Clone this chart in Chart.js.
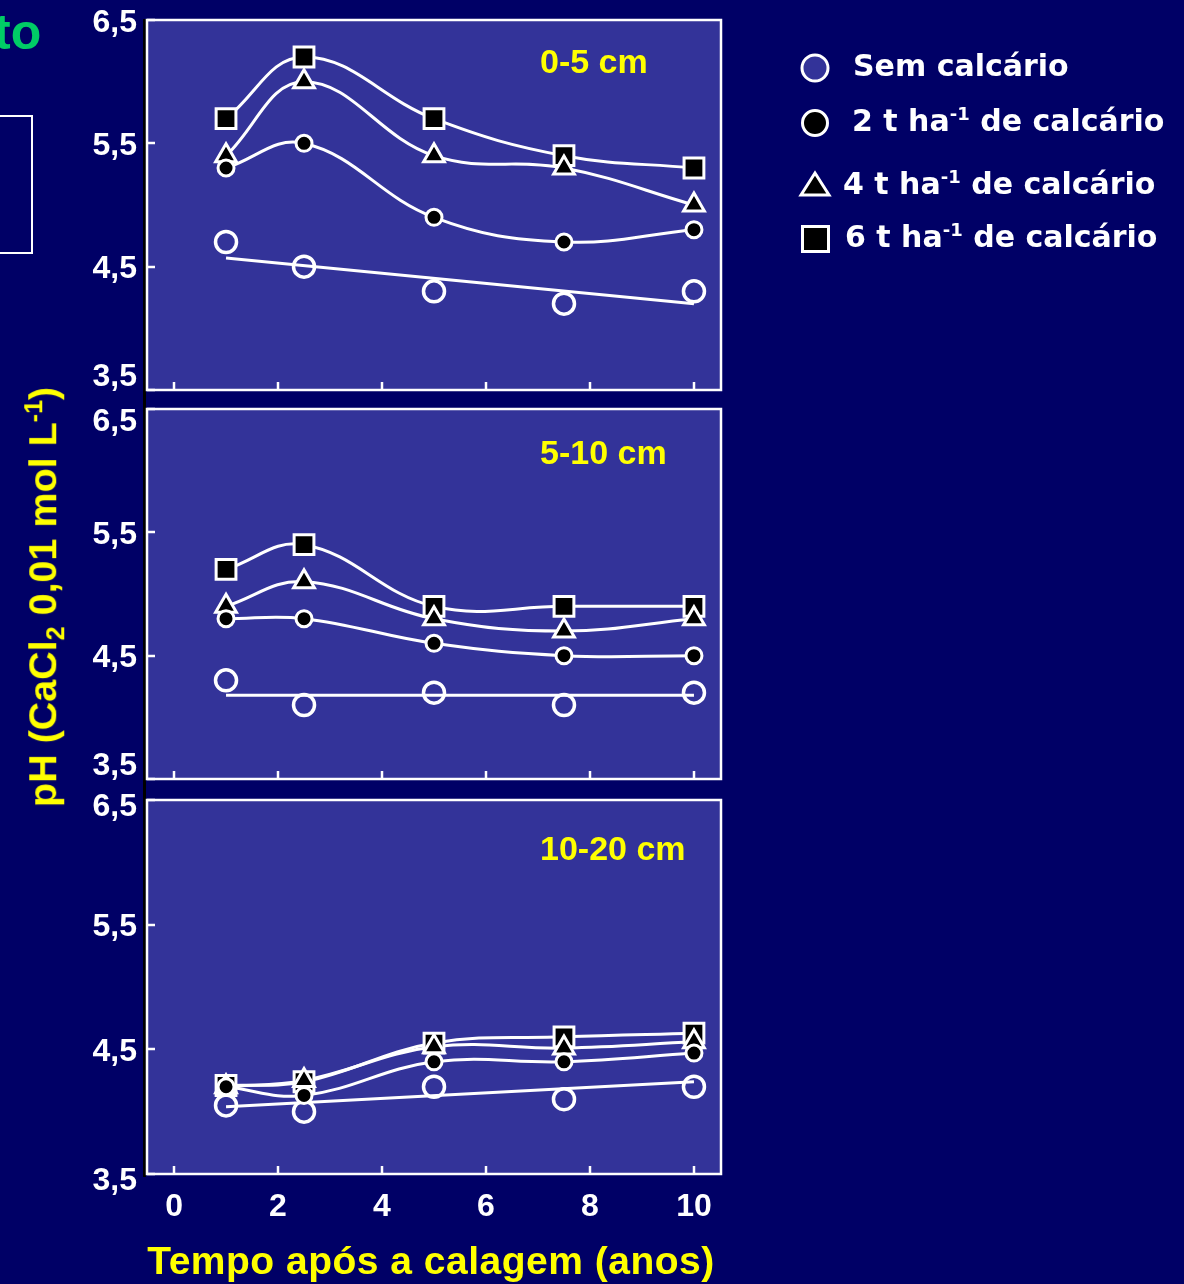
<!DOCTYPE html>
<html>
<head>
<meta charset="utf-8">
<script src="https://cdn.jsdelivr.net/npm/chart.js@4/dist/chart.umd.min.js"></script>
<style>
  html, body { margin:0; padding:0; }
  body { width:1184px; height:1284px; background:#000066; position:relative; overflow:hidden; }
  canvas { position:absolute; left:0; }
  .lab { position:absolute; white-space:nowrap; line-height:1; font-weight:bold; }
  .sans { font-family:"Liberation Sans", Arial, sans-serif; }
  .dv { font-family:"DejaVu Sans", Verdana, sans-serif; }
  .leg { color:#fff; font-size:30px; }
  .sp { position:relative; top:-11px; font-size:18px; }
  .ysub { position:relative; top:8px; font-size:25px; }
  .ysup { position:relative; top:-14px; font-size:25px; }
</style>
</head>
<body>
<!-- cropped slide fragments -->
<div class="lab sans" style="left:-6px;top:7px;font-size:50px;color:#00cc66;">to</div>
<div style="position:absolute;left:-10px;top:115px;width:39px;height:135px;border:2px solid #fff;"></div>
<div style="position:absolute;left:143px;top:19px;width:3px;height:1158px;background:#000;"></div>

<canvas id="c1" width="740" height="396" style="top:0px"></canvas>
<canvas id="c2" width="740" height="396" style="top:389px"></canvas>
<canvas id="c3" width="740" height="460" style="top:780px"></canvas>

<!-- depth labels -->
<div class="lab sans" style="left:540px;top:44px;font-size:34px;color:#ffff00;">0-5 cm</div>
<div class="lab sans" style="left:540px;top:435px;font-size:34px;color:#ffff00;">5-10 cm</div>
<div class="lab sans" style="left:540px;top:831px;font-size:34px;color:#ffff00;">10-20 cm</div>

<!-- axis titles -->
<div class="lab sans" style="left:43px;top:597px;font-size:39.5px;color:#ffff00;transform:translate(-50%,-50%) rotate(-90deg);">pH (CaCl<span class="ysub">2</span> 0,01 mol L<span class="ysup">-1</span>)</div>
<div class="lab sans" style="left:431px;top:1241px;font-size:39px;color:#ffff00;transform:translateX(-50%);letter-spacing:0.5px;">Tempo após a calagem (anos)</div>

<!-- legend -->
<svg style="position:absolute;left:0;top:0" width="1184" height="300">
  <circle cx="815" cy="68" r="13" fill="#333399" stroke="#fff" stroke-width="3"/>
  <circle cx="815" cy="123" r="12.5" fill="#000" stroke="#fff" stroke-width="3"/>
  <polygon points="815,173 829,195 801,195" fill="#000" stroke="#fff" stroke-width="3" stroke-linejoin="miter"/>
  <rect x="802.5" y="226.5" width="26" height="25" fill="#000" stroke="#fff" stroke-width="3"/>
</svg>
<div class="lab dv leg" style="left:853px;top:51px;">Sem calcário</div>
<div class="lab dv leg" style="left:852px;top:106px;">2 t ha<span class="sp">-1</span> de calcário</div>
<div class="lab dv leg" style="left:843px;top:169px;">4 t ha<span class="sp">-1</span> de calcário</div>
<div class="lab dv leg" style="left:845px;top:222px;">6 t ha<span class="sp">-1</span> de calcário</div>

<script>
// ---------- data ----------
const X_YEARS = [1, 2.5, 5, 7.5, 10];        // anos após a calagem
const X_TICKS = [0, 2, 4, 6, 8, 10];
const Y_TICKS = [3.5, 4.5, 5.5, 6.5];
const FIT_X = [1, 10];                        // extremos da reta (sem calcário)

// 0-5 cm
const P1_SEM = [4.7, 4.5, 4.3, 4.2, 4.3];
const P1_T2  = [5.3, 5.5, 4.9, 4.7, 4.8];
const P1_T4  = [5.4, 6.0, 5.4, 5.3, 5.0];
const P1_T6  = [5.7, 6.2, 5.7, 5.4, 5.3];
const P1_SEM_FIT = [4.57, 4.20];

// 5-10 cm
const P2_SEM = [4.3, 4.1, 4.2, 4.1, 4.2];
const P2_T2  = [4.8, 4.8, 4.6, 4.5, 4.5];
const P2_T4  = [4.9, 5.1, 4.8, 4.7, 4.8];
const P2_T6  = [5.2, 5.4, 4.9, 4.9, 4.9];
const P2_SEM_FIT = [4.18, 4.18];

// 10-20 cm
const P3_SEM = [4.05, 4.0, 4.2, 4.1, 4.2];
const P3_T2  = [4.2, 4.13, 4.4, 4.4, 4.47];
const P3_T4  = [4.2, 4.25, 4.52, 4.51, 4.56];
const P3_T6  = [4.21, 4.24, 4.55, 4.6, 4.63];
const P3_SEM_FIT = [4.04, 4.24];

// ---------- helpers ----------
const SANS = '"Liberation Sans", Arial, sans-serif';
const PANEL_BG = '#333399';

function pts(xs, ys) { return xs.map((x, i) => ({ x: x, y: ys[i] })); }

function markerDs(vals, style, r, fill, bw) {
  return { data: pts(X_YEARS, vals), showLine: false, pointStyle: style, pointRadius: r,
           pointBackgroundColor: fill, pointBorderColor: '#ffffff', pointBorderWidth: bw, order: 0 };
}
function curveDs(vals) {
  return { data: pts(X_YEARS, vals), showLine: true, pointRadius: 0, borderColor: '#ffffff',
           borderWidth: 3, tension: 0.4, fill: false, order: 1 };
}
function fitDs(vals) {
  return { data: pts(FIT_X, vals), showLine: true, pointRadius: 0, borderColor: '#ffffff',
           borderWidth: 3, tension: 0, fill: false, order: 1 };
}

const panelFrame = {
  id: 'panelFrame',
  beforeDraw(chart) {
    const a = chart.chartArea, c = chart.ctx;
    c.save(); c.fillStyle = PANEL_BG; c.fillRect(a.left, a.top, a.right - a.left, a.bottom - a.top); c.restore();
  },
  afterDraw(chart) {
    const a = chart.chartArea, c = chart.ctx;
    c.save();
    c.strokeStyle = '#ffffff'; c.lineWidth = 2.5;
    c.strokeRect(a.left, a.top, a.right - a.left, a.bottom - a.top);
    const xs = chart.scales.x, ys = chart.scales.y;
    xs.ticks.forEach(t => {
      const px = Math.round(xs.getPixelForValue(t.value));
      c.beginPath(); c.moveTo(px, a.bottom); c.lineTo(px, a.bottom - 8); c.stroke();
    });
    ys.ticks.forEach(t => {
      const py = Math.round(ys.getPixelForValue(t.value));
      c.beginPath(); c.moveTo(a.left, py); c.lineTo(a.left + 8, py); c.stroke();
    });
    c.restore();
  }
};

function yTicks(shifts) {
  return {
    color: '#ffffff', padding: 10, labelOffset: 3,
    font: (ctx) => {
      const s = (ctx.tick && shifts[ctx.tick.value]) || 0;
      return { family: SANS, size: 32, weight: 'bold', lineHeight: s ? (2 * Math.abs(s)) / 32 : 1.2 };
    },
    callback: (v) => {
      const t = String(v).replace('.', ',');
      const s = shifts[v] || 0;
      return s > 0 ? ['', t] : (s < 0 ? [t, ''] : t);
    }
  };
}

function zeroPad(s) { s.paddingTop = 0; s.paddingBottom = 0; s.paddingLeft = 0; s.paddingRight = 0; }

function makePanel(id, sem, t2, t4, t6, semFit, shifts, showX, xh) {
  new Chart(document.getElementById(id), {
    type: 'scatter',
    data: { datasets: [
      markerDs(t2, 'circle', 8, '#000000', 3),
      markerDs(t4, 'triangle', 12, '#000000', 3),
      markerDs(t6, 'rect', 14, '#000000', 3),
      markerDs(sem, 'circle', 10.5, 'rgba(0,0,0,0)', 3.5),
      curveDs(t2), curveDs(t4), curveDs(t6), fitDs(semFit)
    ]},
    options: {
      responsive: false, animation: false, devicePixelRatio: 1,
      layout: { autoPadding: false, padding: { top: 20, right: 19, left: 0, bottom: 0 } },
      plugins: { legend: { display: false }, tooltip: { enabled: false } },
      scales: {
        x: {
          type: 'linear', min: -0.52, max: 10.52,
          afterBuildTicks: (s) => { s.ticks = X_TICKS.map(v => ({ value: v })); },
          afterFit: (s) => { s.height = xh; zeroPad(s); },
          grid: { display: false, drawTicks: false }, border: { display: false },
          ticks: { display: showX, color: '#ffffff', padding: 14, maxRotation: 0, autoSkip: false,
                   font: { family: SANS, size: 32, weight: 'bold' } }
        },
        y: {
          type: 'linear', min: 3.5, max: 6.5,
          afterBuildTicks: (s) => { s.ticks = Y_TICKS.map(v => ({ value: v })); },
          afterFit: (s) => { s.width = 147; zeroPad(s); },
          grid: { display: false, drawTicks: false }, border: { display: false },
          ticks: yTicks(shifts)
        }
      }
    },
    plugins: [panelFrame]
  });
}

makePanel('c1', P1_SEM, P1_T2, P1_T4, P1_T6, P1_SEM_FIT, { 3.5: -16 }, false, 6);
makePanel('c2', P2_SEM, P2_T2, P2_T4, P2_T6, P2_SEM_FIT, { 3.5: -16, 6.5: 10 }, false, 6);
makePanel('c3', P3_SEM, P3_T2, P3_T4, P3_T6, P3_SEM_FIT, { 3.5: 4, 6.5: 4 }, true, 66);
</script>
</body>
</html>
